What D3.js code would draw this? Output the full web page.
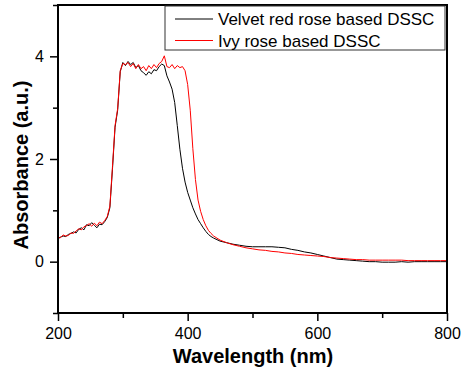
<!DOCTYPE html>
<html>
<head>
<meta charset="utf-8">
<script src="https://cdn.jsdelivr.net/npm/d3@7"></script>
<style>
  body { margin: 0; background: #fff; }
  text { font-family: "Liberation Sans", Arial, sans-serif; fill: #000; }
</style>
</head>
<body>
<script>
// wavelength grid (nm), shared by both spectra
var wavelength = [200,204,208,212,216,220,224,228,232,236,240,244,248,252,256,260,264,268,272,276,
    280,284,288,292,296,300,304,308,312,316,320,324,328,332,336,340,344,348,352,356,
    360,364,368,372,376,380,384,388,392,396,400,404,408,412,416,420,424,428,432,436,440,
    450,460,470,480,490,500,510,520,530,540,550,560,570,580,590,600,610,620,630,640,
    650,660,670,680,690,700,710,720,730,740,750,760,770,780,790,800];

var velvetRed = [0.45,0.48,0.50,0.49,0.53,0.55,0.58,0.56,0.63,0.66,0.62,0.72,0.70,0.76,0.71,0.66,0.73,0.72,0.78,0.86,
    1.05,1.80,2.62,2.95,3.70,3.88,3.82,3.90,3.84,3.88,3.78,3.82,3.72,3.68,3.63,3.70,3.66,3.74,3.72,3.80,
    3.85,3.82,3.62,3.50,3.36,3.10,2.65,2.19,1.82,1.55,1.35,1.20,1.05,0.93,0.82,0.74,0.66,0.59,0.53,0.49,0.46,
    0.40,0.37,0.34,0.32,0.30,0.29,0.29,0.29,0.29,0.28,0.27,0.24,0.22,0.19,0.17,0.14,0.11,0.08,0.05,0.04,
    0.03,0.02,0.01,0.00,0.00,-0.01,-0.01,-0.01,0.00,-0.01,0.00,0.00,0.00,0.00,0.00,0.00];

var ivyRose = [0.46,0.47,0.52,0.50,0.51,0.56,0.55,0.60,0.64,0.62,0.68,0.70,0.74,0.69,0.75,0.70,0.77,0.74,0.80,0.88,
    1.08,1.85,2.65,2.98,3.72,3.86,3.84,3.88,3.80,3.86,3.76,3.84,3.76,3.80,3.72,3.82,3.76,3.84,3.78,3.86,
    3.90,4.01,3.80,3.78,3.84,3.76,3.82,3.78,3.80,3.72,3.45,2.95,2.20,1.60,1.20,0.98,0.82,0.70,0.61,0.55,0.50,
    0.42,0.37,0.33,0.30,0.27,0.25,0.23,0.22,0.20,0.19,0.17,0.16,0.14,0.13,0.12,0.11,0.10,0.08,0.07,0.06,
    0.05,0.04,0.04,0.03,0.03,0.03,0.03,0.03,0.03,0.02,0.02,0.02,0.02,0.02,0.02,0.02];

var seriesNames = ["Velvet red rose based DSSC", "Ivy rose based DSSC"];
var seriesColors = ["#000000", "#ff0000"];
var xTicks = [200, 400, 600, 800];
var xMinorTicks = [300, 500, 700];
var yTicks = [0, 2, 4];
var yMinorTicks = [-1, 1, 3, 5];

var width = 461;
var height = 374;
var margin = { top: 5, right: 14, bottom: 61, left: 58 };

var svg = d3.select("body")
    .append("svg")
    .attr("width", width)
    .attr("height", height);

var x = d3.scaleLinear()
    .domain([200, 800])
    .range([margin.left, width - margin.right]);

var y = d3.scaleLinear()
    .domain([-1, 5])
    .range([height - margin.bottom, margin.top]);

var series = [velvetRed, ivyRose].map(function(vals, i) {
    return {
        name: seriesNames[i],
        color: seriesColors[i],
        points: wavelength.map(function(w, j) { return [w, vals[j]]; })
    };
});

var line = d3.line()
    .x(function(d) { return x(d[0]); })
    .y(function(d) { return y(d[1]); });

// draw black first, red on top
svg.selectAll(".spectrum")
    .data(series)
    .enter()
    .append("path")
    .attr("class", "spectrum")
    .attr("fill", "none")
    .attr("stroke", function(d) { return d.color; })
    .attr("stroke-width", 1)
    .attr("d", function(d) { return line(d.points); });

// minor ticks
svg.append("g")
    .attr("transform", "translate(0," + (height - margin.bottom) + ")")
    .call(d3.axisBottom(x).tickValues(xMinorTicks).tickSize(5).tickFormat(""))
    .call(function(g) { g.select(".domain").remove(); })
    .selectAll("line").attr("stroke-width", 1.5);

svg.append("g")
    .attr("transform", "translate(" + margin.left + ",0)")
    .call(d3.axisLeft(y).tickValues(yMinorTicks).tickSize(5).tickFormat(""))
    .call(function(g) { g.select(".domain").remove(); })
    .selectAll("line").attr("stroke-width", 1.5);

// major ticks + labels
var xAxis = svg.append("g")
    .attr("transform", "translate(0," + (height - margin.bottom) + ")")
    .call(d3.axisBottom(x).tickValues(xTicks).tickSize(8).tickPadding(7).tickFormat(d3.format("d")));

var yAxis = svg.append("g")
    .attr("transform", "translate(" + margin.left + ",0)")
    .call(d3.axisLeft(y).tickValues(yTicks).tickSize(8).tickPadding(6).tickFormat(d3.format("d")));

[xAxis, yAxis].forEach(function(g) {
    g.select(".domain").remove();
    g.selectAll("line").attr("stroke-width", 1.5);
    g.selectAll("text")
        .attr("font-family", "Liberation Sans, Arial, sans-serif")
        .attr("font-size", 16)
        .attr("fill", "#000");
});

// frame
svg.append("rect")
    .attr("x", margin.left)
    .attr("y", margin.top)
    .attr("width", width - margin.left - margin.right)
    .attr("height", height - margin.top - margin.bottom)
    .attr("fill", "none")
    .attr("stroke", "#000")
    .attr("stroke-width", 2);

// axis titles
svg.append("text")
    .attr("x", 253)
    .attr("y", 363)
    .attr("text-anchor", "middle")
    .style("font-size", "20px")
    .style("font-weight", "bold")
    .text("Wavelength (nm)");

svg.append("text")
    .attr("transform", "translate(28," + 165 + ") rotate(-90)")
    .attr("text-anchor", "middle")
    .style("font-size", "20px")
    .style("font-weight", "bold")
    .text("Absorbance (a.u.)");

// legend
var legend = svg.append("g");

legend.append("rect")
    .attr("x", 165)
    .attr("y", 6)
    .attr("width", 280)
    .attr("height", 44)
    .attr("fill", "#fff")
    .attr("stroke", "#333")
    .attr("stroke-width", 1);

var item = legend.selectAll(".item")
    .data(series)
    .enter()
    .append("g")
    .attr("class", "item")
    .attr("transform", function(d, i) { return "translate(0," + (19 + i * 21.5) + ")"; });

item.append("line")
    .attr("x1", 175)
    .attr("x2", 213)
    .attr("stroke", function(d) { return d.color; })
    .attr("stroke-width", 1);

item.append("text")
    .attr("x", 218)
    .attr("y", 6)
    .style("font-size", "17px")
    .text(function(d) { return d.name; });
</script>
</body>
</html>
